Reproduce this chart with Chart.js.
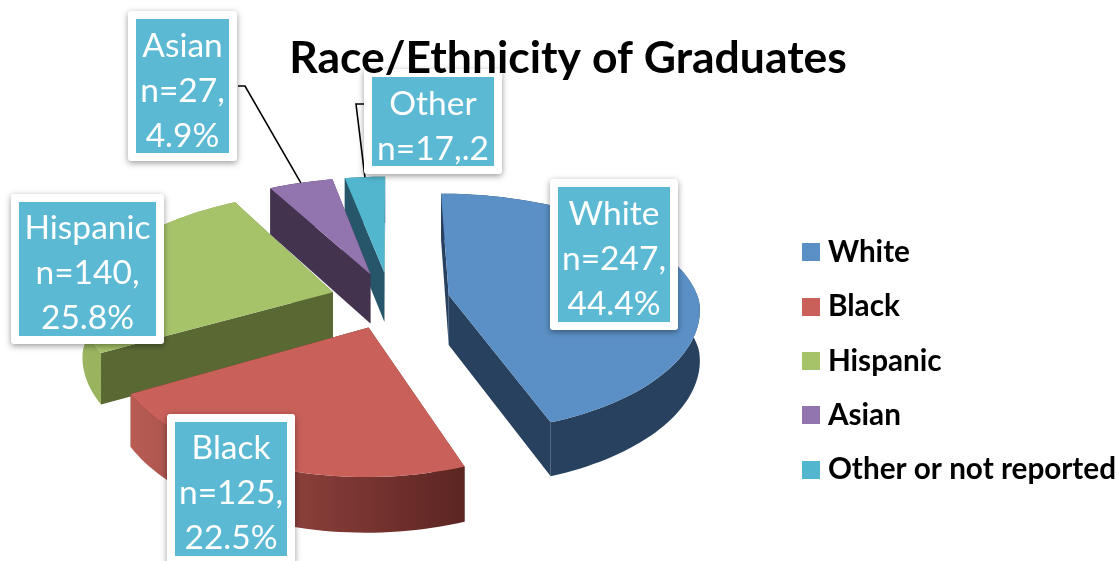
<html lang="en">
<head>
  <meta charset="UTF-8">
  <title>Race/Ethnicity of Graduates</title>
  <style>
    html, body { margin: 0; background: #fff; overflow: hidden; }
    canvas { display: block; }
  </style>
  <script src="https://cdn.jsdelivr.net/npm/chart.js"></script>
  <script>
    const categories = ['White', 'Black', 'Hispanic', 'Asian', 'Other or not reported']
    const graduates = [247, 125, 140, 27, 17]
    const calloutLines = [
      ['White', 'n=247,', '44.4%'],
      ['Black', 'n=125,', '22.5%'],
      ['Hispanic', 'n=140,', '25.8%'],
      ['Asian', 'n=27,', '4.9%'],
      ['Other', 'n=17,.2']
    ]
    const topColors = ['#5b90c6', '#c9605a', '#a6c36a', '#9274af', '#52b6ce']
    const wallColors = ['#27415f', '#6e2e2a', '#5a6934', '#44334f', '#27566a']
    const rimColors = [
      ['#27415f', '#27415f'],
      ['#b85c54', '#8a3f3a', '#5c2522'],
      ['#9ab460', '#90aa58'],
      ['#44334f', '#44334f'],
      ['#27566a', '#27566a']
    ]

    // fake perspective for the 3D pie, everything else comes from the arc elements
    const view = { x: 390, y: 300, squash: 0.472, perspective: 0.15, depth: 50 }
    const drawOrder = [4, 3, 2, 0, 1]
    const legendTop = 213

    // x, y, w, h of the teal part, then first baseline
    const boxes = [
      { x: 558, y: 187, w: 112, h: 135, base: 225 },
      { x: 175, y: 422, w: 112, h: 134, base: 459 },
      { x: 19, y: 202, w: 137, h: 134, base: 239 },
      { x: 136, y: 19, w: 93, h: 134, base: 57 },
      { x: 372, y: 77, w: 122, h: 89, base: 115 }
    ]
    const lineGap = 45

    function project(el, px, py) {
      const s = 1 / (1 - view.perspective * py / el.outerRadius)
      // the front of the pie widens less than the back narrows
      const sx = s < 1 ? s : 1 + (s - 1) * 0.7
      return {
        x: view.x + px * sx,
        y: view.y + view.squash * py * s,
        h: view.depth * (0.5 + 0.5 * s)
      }
    }

    function slicePoints(el) {
      const { startAngle, endAngle, outerRadius } = el
      const offset = el.options.offset
      const mid = (startAngle + endAngle) / 2
      const ox = Math.cos(mid) * offset
      const oy = Math.sin(mid) * offset
      const rim = []
      const steps = Math.max(4, Math.ceil((endAngle - startAngle) / 0.03))
      for (let k = 0; k <= steps; k++) {
        const a = startAngle + (endAngle - startAngle) * k / steps
        rim.push(project(el, ox + Math.cos(a) * outerRadius, oy + Math.sin(a) * outerRadius))
      }
      return { apex: project(el, ox, oy), rim }
    }

    function fillPoly(ctx, pts, fill) {
      ctx.beginPath()
      pts.forEach((p, n) => n ? ctx.lineTo(p.x, p.y) : ctx.moveTo(p.x, p.y))
      ctx.closePath()
      ctx.fillStyle = fill
      ctx.fill()
    }

    const lower = p => ({ x: p.x, y: p.y + p.h })

    function drawSlice(ctx, el, i) {
      const { apex, rim } = slicePoints(el)
      const first = rim[0]
      const last = rim[rim.length - 1]

      fillPoly(ctx, [apex, first, lower(first), lower(apex)], wallColors[i])
      fillPoly(ctx, [apex, last, lower(last), lower(apex)], wallColors[i])

      const xs = rim.map(p => p.x)
      const grad = ctx.createLinearGradient(Math.min(...xs), 0, Math.max(...xs), 0)
      rimColors[i].forEach((c, n) => grad.addColorStop(n / (rimColors[i].length - 1), c))
      fillPoly(ctx, rim.concat(rim.map(lower).reverse()), grad)

      fillPoly(ctx, [apex].concat(rim), el.options.backgroundColor)
    }

    function drawLeader(ctx, el, from) {
      const mid = (el.startAngle + el.endAngle) / 2
      const r = el.outerRadius + el.options.offset
      const end = project(el, Math.cos(mid) * r, Math.sin(mid) * r)
      ctx.beginPath()
      ctx.moveTo(from[0].x, from[0].y)
      ctx.lineTo(from[1].x, from[1].y)
      ctx.lineTo(end.x, end.y)
      ctx.strokeStyle = '#000'
      ctx.lineWidth = 1.6
      ctx.stroke()
    }

    function drawBox(ctx, b, lines) {
      ctx.save()
      ctx.shadowColor = 'rgba(0,0,0,0.4)'
      ctx.shadowBlur = 6
      ctx.shadowOffsetY = 2
      ctx.fillStyle = '#fff'
      ctx.beginPath()
      ctx.roundRect(b.x - 8, b.y - 8, b.w + 16, b.h + 16, 3)
      ctx.fill()
      ctx.restore()
      ctx.fillStyle = '#5cb9d3'
      ctx.fillRect(b.x, b.y, b.w, b.h)
      ctx.fillStyle = '#fff'
      ctx.font = '33.5px Lato'
      ctx.textAlign = 'center'
      ctx.textBaseline = 'alphabetic'
      lines.forEach((t, n) => ctx.fillText(t, b.x + b.w / 2, b.base + n * lineGap))
    }

    const pie3d = {
      id: 'pie3d',
      beforeLayout(chart) {
        // title sits on top of the Other callout in the original
        const title = chart.titleBlock
        title._layers = () => [{ z: 1, draw() { title.draw() } }]
      },
      afterLayout(chart) {
        // legend sits low on the right, the bottom stays clear so it keeps one column
        chart.legend.top = legendTop
        chart.legend.bottom = chart.height
      },
      beforeDatasetDraw(chart, args) {
        const arcs = args.meta.data
        drawOrder.forEach(i => drawSlice(chart.ctx, arcs[i], i))
        return false
      },
      afterDatasetsDraw(chart) {
        const ctx = chart.ctx
        const arcs = chart.getDatasetMeta(0).data
        ctx.save()
        drawLeader(ctx, arcs[3], [{ x: 238, y: 86 }, { x: 245, y: 86 }])
        drawLeader(ctx, arcs[4], [{ x: 364, y: 104 }, { x: 356, y: 104 }])
        boxes.forEach((b, i) => drawBox(ctx, b, calloutLines[i]))
        ctx.restore()
      }
    }

    function swatch(color) {
      const c = document.createElement('canvas')
      c.width = 18
      c.height = 18
      const g = c.getContext('2d')
      g.fillStyle = color
      g.fillRect(0, 0, 18, 18)
      return c
    }

    window.onload = () => {
      new Chart(document.getElementById('viz'), {
        type: 'pie',
        data: {
          labels: categories,
          datasets: [{
            data: graduates,
            backgroundColor: topColors,
            borderWidth: 0,
            offset: 60,
            radius: 250
          }]
        },
        options: {
          responsive: false,
          animation: false,
          layout: { padding: { left: 10, right: -8 } },
          plugins: {
            tooltip: { enabled: false },
            title: {
              display: true,
              text: 'Race/Ethnicity of Graduates',
              color: '#000',
              font: { family: 'Lato', size: 44.5, weight: 'bold' },
              padding: { top: 32, bottom: 10 }
            },
            legend: {
              position: 'right',
              align: 'start',
              labels: {
                color: '#000',
                font: { family: 'Lato', size: 29.7, weight: 'bold' },
                padding: 24.6,
                usePointStyle: true,
                pointStyleWidth: 4.3,
                generateLabels: () => categories.map((text, i) => ({
                  text,
                  index: i,
                  fontColor: '#000',
                  fillStyle: topColors[i],
                  lineWidth: 0,
                  pointStyle: swatch(topColors[i])
                }))
              }
            }
          }
        },
        plugins: [pie3d]
      })
    }
  </script>
</head>
<body>
  <canvas id="viz" width="1118" height="561"></canvas>
</body>
</html>
